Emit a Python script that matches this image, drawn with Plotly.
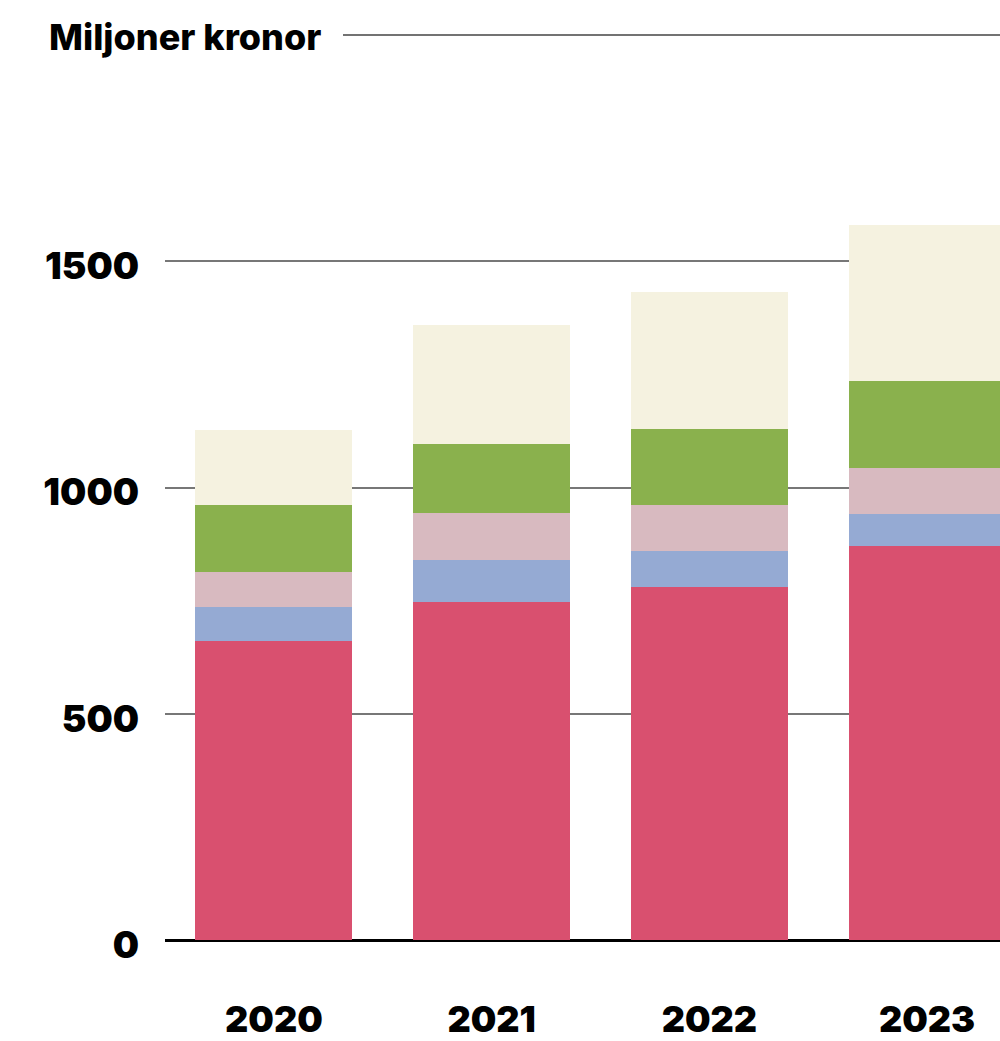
import plotly.graph_objects as go

years = ["2020", "2021", "2022", "2023"]
series_names = ["Röd", "Blå", "Rosa", "Grön", "Beige"]
red = [661, 747, 781, 871]
blue = [74, 93, 79, 71]
pink = [79, 104, 102, 102]
green = [148, 153, 168, 192]
cream = [165, 262, 302, 344]
colors = ["#D9506F", "#95AAD3", "#D8BAC0", "#8AB14D", "#F5F2E0"]
ytick_vals = [0, 500, 1000, 1500]
title_text = "Miljoner kronor"

TITLE_FONT = "Inter"
TICK_FONT = "Inter"

fig = go.Figure()
for name, vals, col in zip(series_names, [red, blue, pink, green, cream], colors):
    fig.add_trace(go.Bar(x=years, y=vals, name=name, marker=dict(color=col, line=dict(width=0)),
                         hoverinfo="skip"))

fig.update_layout(
    barmode="stack",
    bargap=0.279,
    width=1000,
    height=1041,
    margin=dict(l=165, r=0, t=35, b=101, pad=0),
    paper_bgcolor="white",
    plot_bgcolor="white",
    showlegend=False,
    font=dict(family=TITLE_FONT, color="black"),
    xaxis=dict(
        type="category",
        range=[-0.5, 3.335],
        automargin=False,
        showgrid=False,
        showline=False,
        zeroline=False,
        ticks="",
        tickfont=dict(size=36, family=TICK_FONT, weight=900, color="black"),
        ticklabelstandoff=55,
    ),
    yaxis=dict(
        range=[0, 2000],
        automargin=False,
        tickvals=ytick_vals,
        ticktext=[str(v) for v in ytick_vals],
        showgrid=True,
        gridcolor="#777777",
        gridwidth=1.5,
        zeroline=True,
        zerolinecolor="black",
        zerolinewidth=2.5,
        showline=False,
        ticks="",
        tickfont=dict(size=37, family=TICK_FONT, weight=900, color="black"),
        ticklabelstandoff=25,
        ticklabelshift=5,
    ),
)

fig.add_shape(type="line", xref="paper", yref="paper", x0=(343 - 165) / 835, x1=1.0, y0=1, y1=1,
              line=dict(color="#444444", width=1.3))
fig.add_annotation(text=title_text, xref="paper", yref="paper", x=(47 - 165) / 835, y=1,
                   xanchor="left", yanchor="middle", showarrow=False, yshift=-2,
                   font=dict(size=36, family=TITLE_FONT, weight=800, color="black"))

fig.write_html("out.html", config={"displayModeBar": False},
               post_script="document.body.style.margin='0';document.body.style.overflow='hidden';")
